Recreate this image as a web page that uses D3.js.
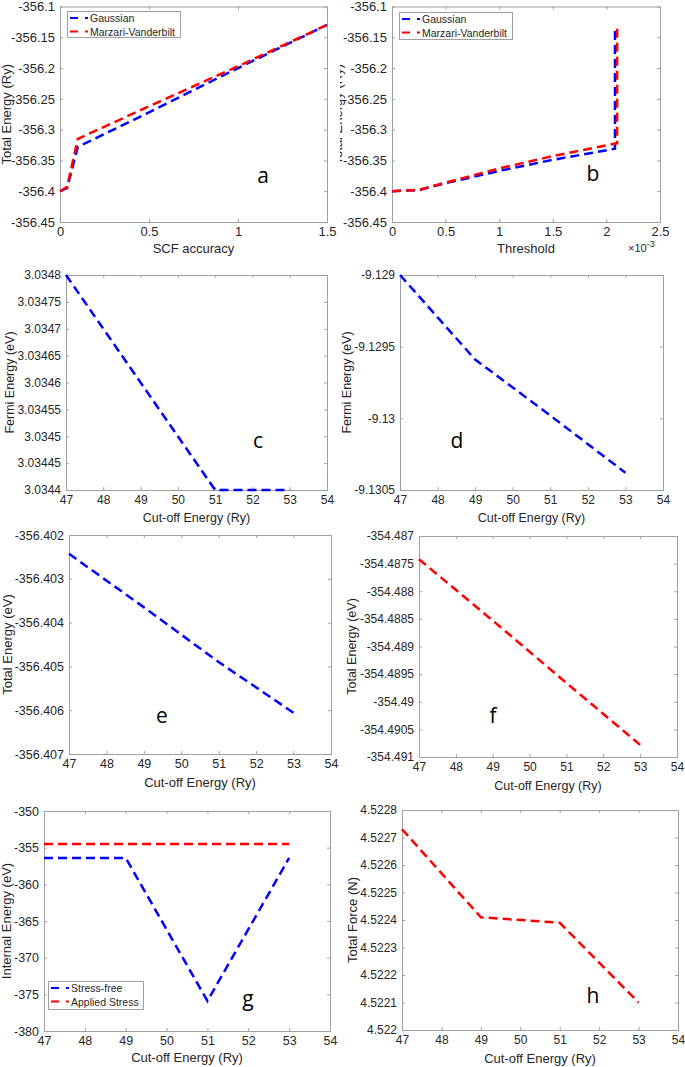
<!DOCTYPE html>
<html><head><meta charset="utf-8">
<script src="https://cdn.jsdelivr.net/npm/d3@7"></script>
<style>
html,body{margin:0;padding:0;background:#fff;}
svg{display:block;}
</style></head>
<body>
<svg id="chart" width="685" height="1067"></svg>
<script>
// ---------------- data ----------------
// panel a
const aX = [0, 0.04, 0.1, 0.5, 1.0, 1.5];
const aGaussian = [-356.4, -356.395, -356.328, -356.272, -356.2, -356.13];
const aMarzari = [-356.4, -356.393, -356.315, -356.262, -356.197, -356.13];
const aXTicks = [0, 0.5, 1, 1.5];
const aYTicks = [-356.45, -356.4, -356.35, -356.3, -356.25, -356.2, -356.15, -356.1];
// panel b
const bXGaussian = [0, 0.00025, 0.0005, 0.001, 0.0015, 0.00208, 0.00208];
const bGaussian = [-356.4, -356.398, -356.387, -356.367, -356.349, -356.331, -356.138];
const bXMarzari = [0, 0.00025, 0.0005, 0.001, 0.0015, 0.0021, 0.0021];
const bMarzari = [-356.4, -356.398, -356.386, -356.363, -356.343, -356.322, -356.131];
const bXTicks = [0, 0.0005, 0.001, 0.0015, 0.002, 0.0025];
const bYTicks = aYTicks;
// panels c-h share the cut-off energy axis
const cutoff = [47, 49, 51, 53];
const cutoffTicks = [47, 48, 49, 50, 51, 52, 53, 54];
const cFermi = [3.0348, 3.0346, 3.0344, 3.0344];
const cYTicks = [3.0344, 3.03445, 3.0345, 3.03455, 3.0346, 3.03465, 3.0347, 3.03475, 3.0348];
const dFermi = [-9.129, -9.12959, -9.12998, -9.13038];
const dYTicks = [-9.1305, -9.13, -9.1295, -9.129];
const eTotal = [-356.40243, -356.40365, -356.4049, -356.40606];
const eYTicks = [-356.407, -356.406, -356.405, -356.404, -356.403, -356.402];
const fTotal = [-354.48742, -354.48853, -354.48966, -354.49078];
const fYTicks = [-354.491, -354.4905, -354.49, -354.4895, -354.489, -354.4885, -354.488, -354.4875, -354.487];
const gStressFree = [-356.4, -356.4, -375.9, -356.4];
const gApplied = [-354.49, -354.49, -354.49, -354.49];
const gYTicks = [-380, -375, -370, -365, -360, -355, -350];
const hForce = [4.52273, 4.52241, 4.52239, 4.5221];
const hYTicks = [4.522, 4.5221, 4.5222, 4.5223, 4.5224, 4.5225, 4.5226, 4.5227, 4.5228];

// ---------------- drawing ----------------
const BLUE = "#0000ff", RED = "#ff0000", TXT = "#262626", BOX = "#a0a0a0";
const FONT = "'Liberation Sans', Arial, Helvetica, sans-serif";
const svg = d3.select("#chart");
const fmt = d => String(+d.toFixed(7));

const panels = [
  {box:[60,6.5,327,222], xd:[0,1.5], yd:[-356.45,-356.1], xt:aXTicks, yt:aYTicks, fs:13, lf:13,
   series:[{x:aX,y:aGaussian,c:BLUE,name:"Gaussian"},{x:aX,y:aMarzari,c:RED,name:"Marzari-Vanderbilt"}],
   xl:"SCF accuracy", yl:"Total Energy (Ry)", ylx:6, xly:253, letter:"a", lp:[263,183],
   legend:[67,11,113,26]},
  {box:[392,6.5,660,222], xd:[0,0.0025], yd:[-356.45,-356.1], xt:bXTicks, yt:bYTicks, xfmt:d=>fmt(d*1000), fs:13, lf:13,
   series:[{x:bXGaussian,y:bGaussian,c:BLUE,name:"Gaussian"},{x:bXMarzari,y:bMarzari,c:RED,name:"Marzari-Vanderbilt"}],
   xl:"Threshold", yl:"Total Energy (Ry)", ylx:337, xly:253, letter:"b", lp:[593,181],
   legend:[399,12,113,27], clipLeft:340, exp:true},
  {box:[66,275,327,490], xd:[47,54], yd:[3.0344,3.0348], xt:cutoffTicks, yt:cYTicks, fs:12, lf:12.5,
   series:[{x:cutoff,y:cFermi,c:BLUE}],
   xl:"Cut-off Energy (Ry)", yl:"Fermi Energy (eV)", ylx:9.5, xly:522, letter:"c", lp:[258,448]},
  {box:[400,275,663,490], xd:[47,54], yd:[-9.1305,-9.129], xt:cutoffTicks, yt:dYTicks, fs:12, lf:12.5,
   series:[{x:cutoff,y:dFermi,c:BLUE}],
   xl:"Cut-off Energy (Ry)", yl:"Fermi Energy (eV)", ylx:346.5, xly:522, letter:"d", lp:[457,448]},
  {box:[69,535,331,754], xd:[47,54], yd:[-356.407,-356.402], xt:cutoffTicks, yt:eYTicks, fs:12.5, lf:13,
   series:[{x:cutoff,y:eTotal,c:BLUE}],
   xl:"Cut-off Energy (Ry)", yl:"Total Energy (eV)", ylx:7, xly:787, letter:"e", lp:[162,723]},
  {box:[419,536,677,757], xd:[47,54], yd:[-354.491,-354.487], xt:cutoffTicks, yt:fYTicks, fs:12, lf:12.5,
   series:[{x:cutoff,y:fTotal,c:RED}],
   xl:"Cut-off Energy (Ry)", yl:"Total Energy (eV)", ylx:351, xly:790, letter:"f", lp:[493,723]},
  {box:[44,811,330,1031], xd:[47,54], yd:[-380,-350], xt:cutoffTicks, yt:gYTicks, fs:12.5, lf:13,
   series:[{x:cutoff,y:gStressFree,c:BLUE,name:"Stress-free"},{x:cutoff,y:gApplied,c:RED,name:"Applied Stress"}],
   xl:"Cut-off Energy (Ry)", yl:"Internal Energy (eV)", ylx:6, xly:1062, letter:"g", lp:[248,1006],
   legend:[48,981,95,28]},
  {box:[402,810,678,1030], xd:[47,54], yd:[4.522,4.5228], xt:cutoffTicks, yt:hYTicks, fs:12, lf:13,
   series:[{x:cutoff,y:hForce,c:RED}],
   xl:"Cut-off Energy (Ry)", yl:"Total Force (N)", ylx:352, xly:1063, letter:"h", lp:[593,1003]}
];

panels.forEach((p, i) => {
  const [x0, y0, x1, y1] = p.box;
  let g = svg.append("g");
  if (p.clipLeft !== undefined) {
    svg.append("clipPath").attr("id", "clip" + i).append("rect")
      .attr("x", p.clipLeft).attr("y", 0).attr("width", 685 - p.clipLeft).attr("height", 1067);
    g.attr("clip-path", `url(#clip${i})`);
  }
  const x = d3.scaleLinear().domain(p.xd).range([x0, x1]);
  const y = d3.scaleLinear().domain(p.yd).range([y1, y0]);
  const xf = p.xfmt || fmt;

  const styleAxis = sel => {
    sel.select(".domain").remove();
    sel.selectAll(".tick line").attr("stroke", BOX).attr("stroke-width", 1);
    sel.selectAll(".tick text").attr("fill", TXT).style("font-family", FONT).style("font-size", p.fs + "px");
  };
  g.append("g").attr("transform", `translate(0,${y1})`)
    .call(d3.axisBottom(x).tickValues(p.xt).tickFormat(xf).tickSizeInner(-3).tickSizeOuter(0).tickPadding(5))
    .call(styleAxis);
  g.append("g").attr("transform", `translate(0,${y0})`)
    .call(d3.axisTop(x).tickValues(p.xt).tickFormat("").tickSizeInner(-3).tickSizeOuter(0))
    .call(styleAxis);
  g.append("g").attr("transform", `translate(${x0},0)`)
    .call(d3.axisLeft(y).tickValues(p.yt).tickFormat(fmt).tickSizeInner(-3).tickSizeOuter(0).tickPadding(5))
    .call(styleAxis);
  g.append("g").attr("transform", `translate(${x1},0)`)
    .call(d3.axisRight(y).tickValues(p.yt).tickFormat("").tickSizeInner(-3).tickSizeOuter(0))
    .call(styleAxis);

  g.append("rect").attr("x", x0 + 0.5).attr("y", y0 + 0.5)
    .attr("width", x1 - x0).attr("height", y1 - y0)
    .attr("fill", "none").attr("stroke", BOX).attr("stroke-width", 1);

  const line = d3.line().x(d => x(d[0])).y(d => y(d[1]));
  p.series.forEach(s => {
    const pts = s.x.map((v, k) => [v, s.y[k]]);
    g.append("path").attr("d", line(pts)).attr("fill", "none")
      .attr("stroke", s.c).attr("stroke-width", 2.5)
      .attr("stroke-dasharray", "9,5").attr("stroke-linejoin", "miter");
  });

  // axis labels
  g.append("text").attr("x", (x0 + x1) / 2).attr("y", p.xly)
    .attr("text-anchor", "middle").attr("fill", TXT)
    .style("font-family", FONT).style("font-size", p.lf + "px").text(p.xl);
  g.append("text").attr("transform", `translate(${p.ylx + 4.5},${(y0 + y1) / 2}) rotate(-90)`)
    .attr("text-anchor", "middle").attr("fill", TXT)
    .style("font-family", FONT).style("font-size", p.lf + "px").text(p.yl);

  if (p.exp) {
    const t = g.append("text").attr("x", x1 - 32).attr("y", 252).attr("fill", TXT)
      .style("font-family", FONT).style("font-size", "11px");
    t.append("tspan").text("×10");
    t.append("tspan").attr("dy", -5).style("font-size", "9px").text("-3");
  }

  // panel letter
  g.append("text").attr("x", p.lp[0]).attr("y", p.lp[1]).attr("text-anchor", "middle")
    .attr("fill", "#000").style("font-family", "'Open Sans', 'Noto Sans', sans-serif")
    .style("font-size", "21px").text(p.letter);

  // legend
  if (p.legend) {
    const [lx, ly, lw, lh] = p.legend;
    g.append("rect").attr("x", lx + 0.5).attr("y", ly + 0.5).attr("width", lw).attr("height", lh)
      .attr("fill", "#fff").attr("stroke", BOX).attr("stroke-width", 1);
    p.series.forEach((s, k) => {
      const ry = ly + 7 + k * 13.5;
      g.append("line").attr("x1", lx + 3).attr("x2", lx + 21).attr("y1", ry).attr("y2", ry)
        .attr("stroke", s.c).attr("stroke-width", 2.2).attr("stroke-dasharray", "8,7");
      g.append("text").attr("x", lx + 23).attr("y", ry + 4).attr("fill", TXT)
        .style("font-family", FONT).style("font-size", "10.5px").text(s.name);
    });
  }
});
</script>
</body></html>
